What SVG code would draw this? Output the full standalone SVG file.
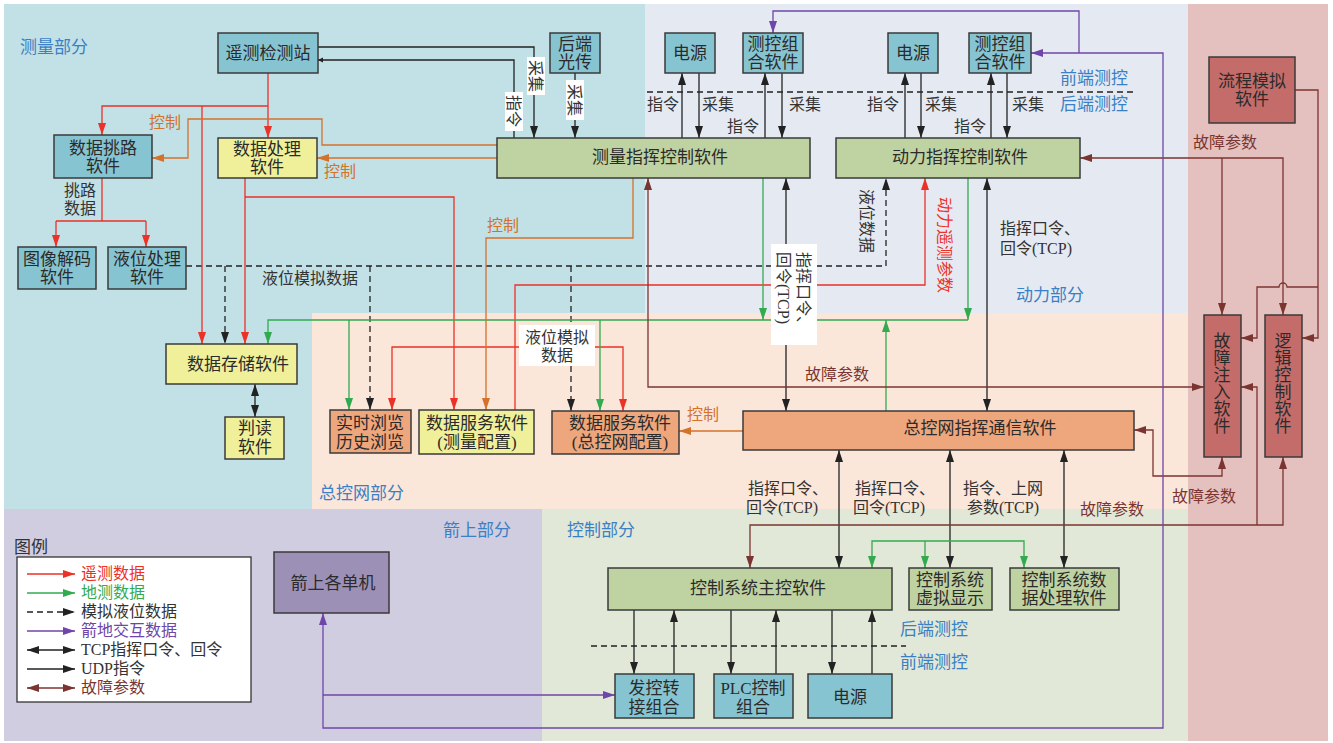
<svg xmlns="http://www.w3.org/2000/svg" width="1333" height="743" viewBox="0 0 1333 743">
<style>
text{font-family:"Liberation Serif","Noto Sans CJK SC",serif;}
.t{font-size:17px;fill:#2b2b2b;text-anchor:middle}
.l{font-size:16px;fill:#333;text-anchor:middle}
.ls{font-size:16px;fill:#333}
.lg{font-size:16px;fill:#333}
.sec{font-size:17px;fill:#3b7fc4}
.n{stroke:#3a3a3a;stroke-width:1.5}
.fb{fill:#87c4d1}.fy{fill:#f0f09b}.fg{fill:#bfd2a2}.fo{fill:#eea67c}.fr{fill:#c46c6a}.fp{fill:#9d90b7}
.c{fill:none;stroke-width:1.3}
.k{stroke:#222}.r{stroke:#ec3127}.g{stroke:#33aa50}.o{stroke:#d4712b}.b{stroke:#7b3530}.p{stroke:#6f45a8}
.d{stroke-dasharray:6 4}
.wb{fill:#fff}
.tr{fill:#ec3127}.tg{fill:#33aa50}.tb{fill:#7b3530}.tp{fill:#6f45a8}.to{fill:#d4712b}
</style>
<defs>
<marker id="mk" viewBox="0 0 12 8" refX="12" refY="4" markerWidth="12" markerHeight="8" markerUnits="userSpaceOnUse" orient="auto-start-reverse"><path d="M0,0L12,4L0,8z" fill="#222"/></marker>
<marker id="mks" viewBox="0 0 6 6" refX="6" refY="3" markerWidth="5" markerHeight="6" markerUnits="userSpaceOnUse" orient="auto-start-reverse"><path d="M0,0L6,3L0,6z" fill="#222"/></marker>
<marker id="mr" viewBox="0 0 12 8" refX="12" refY="4" markerWidth="12" markerHeight="8" markerUnits="userSpaceOnUse" orient="auto-start-reverse"><path d="M0,0L12,4L0,8z" fill="#ec3127"/></marker>
<marker id="mg" viewBox="0 0 12 8" refX="12" refY="4" markerWidth="12" markerHeight="8" markerUnits="userSpaceOnUse" orient="auto-start-reverse"><path d="M0,0L12,4L0,8z" fill="#33aa50"/></marker>
<marker id="mo" viewBox="0 0 12 8" refX="12" refY="4" markerWidth="12" markerHeight="8" markerUnits="userSpaceOnUse" orient="auto-start-reverse"><path d="M0,0L12,4L0,8z" fill="#d4712b"/></marker>
<marker id="mb" viewBox="0 0 12 8" refX="12" refY="4" markerWidth="12" markerHeight="8" markerUnits="userSpaceOnUse" orient="auto-start-reverse"><path d="M0,0L12,4L0,8z" fill="#7b3530"/></marker>
<marker id="mp" viewBox="0 0 12 8" refX="12" refY="4" markerWidth="12" markerHeight="8" markerUnits="userSpaceOnUse" orient="auto-start-reverse"><path d="M0,0L12,4L0,8z" fill="#6f45a8"/></marker>
</defs>
<rect width="1333" height="743" fill="#fff"/>
<g id="regions">
<rect x="4" y="4" width="641" height="506" fill="#c1e1e7"/>
<rect x="645" y="4" width="543" height="309" fill="#e5eaf2"/>
<rect x="312" y="313" width="876" height="196" fill="#fbe6da"/>
<rect x="1188" y="4" width="140" height="737" fill="#e4c0bf"/>
<rect x="4" y="509" width="538" height="232" fill="#d1cde0"/>
<rect x="542" y="509" width="646" height="232" fill="#e2e8d7"/>
<text class="sec" x="20" y="53">测量部分</text>
<text class="sec" x="1016" y="301">动力部分</text>
<text class="sec" x="319" y="499">总控网部分</text>
<text class="sec" x="443" y="536">箭上部分</text>
<text class="sec" x="567" y="536">控制部分</text>
<text class="sec" x="1060" y="84">前端测控</text>
<text class="sec" x="1060" y="110">后端测控</text>
<text class="sec" x="900" y="635">后端测控</text>
<text class="sec" x="900" y="668">前端测控</text>
</g>
<g id="connectors">
<path class="c k d" d="M647,92H1137"/>
<path class="c k d" d="M591,646H906"/>
<path class="c k" d="M318,47H534V138" marker-end="url(#mk)"/>
<path class="c k" d="M514,138V60H318" marker-end="url(#mks)"/>
<path class="c k" d="M575,73V138" marker-end="url(#mk)"/>
<path class="c k" d="M682,138V73" marker-end="url(#mk)"/>
<path class="c k" d="M699,73V138" marker-end="url(#mk)"/>
<path class="c k" d="M765,138V73" marker-end="url(#mk)"/>
<path class="c k" d="M782,73V138" marker-end="url(#mk)"/>
<path class="c k" d="M905,138V73" marker-end="url(#mk)"/>
<path class="c k" d="M921,73V138" marker-end="url(#mk)"/>
<path class="c k" d="M991,138V73" marker-end="url(#mk)"/>
<path class="c k" d="M1007,73V138" marker-end="url(#mk)"/>
<path class="c k" d="M786,178V411" marker-start="url(#mk)" marker-end="url(#mk)"/>
<path class="c k" d="M987,178V411" marker-start="url(#mk)" marker-end="url(#mk)"/>
<path class="c k" d="M839,450V568" marker-start="url(#mk)" marker-end="url(#mk)"/>
<path class="c k" d="M950,450V568" marker-start="url(#mk)" marker-end="url(#mk)"/>
<path class="c k" d="M1064,450V568" marker-start="url(#mk)" marker-end="url(#mk)"/>
<path class="c k" d="M255,384V417" marker-start="url(#mk)" marker-end="url(#mk)"/>
<path class="c k" d="M634,610V674" marker-end="url(#mk)"/>
<path class="c k" d="M674,674V610" marker-end="url(#mk)"/>
<path class="c k" d="M731,610V674" marker-end="url(#mk)"/>
<path class="c k" d="M776,674V610" marker-end="url(#mk)"/>
<path class="c k" d="M832,610V674" marker-end="url(#mk)"/>
<path class="c k" d="M872,674V610" marker-end="url(#mk)"/>
<path class="c k d" d="M186,266H886V178" marker-end="url(#mk)"/>
<path class="c k d" d="M225,266V344" marker-end="url(#mk)"/>
<path class="c k d" d="M370,266V410" marker-end="url(#mk)"/>
<path class="c k d" d="M571,266V411" marker-end="url(#mk)"/>
<path class="c r" d="M268,73V138" marker-end="url(#mr)"/>
<path class="c r" d="M268,106H102V135" marker-end="url(#mr)"/>
<path class="c r" d="M202,106V344" marker-end="url(#mr)"/>
<path class="c r" d="M245,178V344" marker-end="url(#mr)"/>
<path class="c r" d="M245,197H454V410" marker-end="url(#mr)"/>
<path class="c r" d="M102,178V221M56,221H146"/>
<path class="c r" d="M56,221V247" marker-end="url(#mr)"/>
<path class="c r" d="M146,221V247" marker-end="url(#mr)"/>
<path class="c r" d="M515,410V285H925V178" marker-end="url(#mr)"/>
<path class="c r" d="M392,410V347H623V411" marker-start="url(#mr)" marker-end="url(#mr)"/>
<path class="c g" d="M763,178V320" marker-end="url(#mg)"/>
<path class="c g" d="M968,178V320" marker-end="url(#mg)"/>
<path class="c g" d="M886,411V320" marker-end="url(#mg)"/>
<path class="c g" d="M268,344V320H968" marker-start="url(#mg)"/>
<path class="c g" d="M349,320V410" marker-end="url(#mg)"/>
<path class="c g" d="M600,320V411" marker-end="url(#mg)"/>
<path class="c g" d="M872,568V541H1024V568" marker-start="url(#mg)" marker-end="url(#mg)"/>
<path class="c g" d="M925,541V568" marker-end="url(#mg)"/>
<path class="c o" d="M497,145H322V119H188V158H152" marker-end="url(#mo)"/>
<path class="c o" d="M497,158H317" marker-end="url(#mo)"/>
<path class="c o" d="M633,178V238H486V410" marker-end="url(#mo)"/>
<path class="c o" d="M743,431H679" marker-end="url(#mo)"/>
<path class="c b" d="M648,178V387H1204" marker-start="url(#mb)" marker-end="url(#mb)"/>
<path class="c b" d="M1080,158H1283V315" marker-start="url(#mb)" marker-end="url(#mb)"/>
<path class="c b" d="M1222,158V315" marker-end="url(#mb)"/>
<path class="c b" d="M1295,90H1318V338H1302" marker-end="url(#mb)"/>
<path class="c b" d="M1318,287H1287A4,4 0 0 0 1279,287H1257V338H1241" marker-end="url(#mb)"/>
<path class="c b" d="M1222,457V476H1153V430H1134" marker-start="url(#mb)" marker-end="url(#mb)"/>
<path class="c b" d="M750,568V525H1283V457" marker-start="url(#mb)" marker-end="url(#mb)"/>
<path class="c b" d="M1257,525V387H1241" marker-end="url(#mb)"/>
<path class="c p" d="M773,33V11H1079V53" marker-start="url(#mp)"/>
<path class="c p" d="M1031,53H1163V728H323V613" marker-start="url(#mp)" marker-end="url(#mp)"/>
<path class="c p" d="M323,695H615" marker-end="url(#mp)"/>
</g>
<g id="labels">
<rect class="wb" x="527" y="57" width="18" height="38"/>
<g transform="translate(536,76) rotate(90)"><text class="l" x="0" y="6">采集</text></g>
<rect class="wb" x="505" y="92" width="18" height="39"/>
<g transform="translate(514,111) rotate(90)"><text class="l" x="0" y="6">指令</text></g>
<rect class="wb" x="566" y="80" width="18" height="40"/>
<g transform="translate(575,100) rotate(90)"><text class="l" x="0" y="6">采集</text></g>
<text class="l" x="663" y="110">指令</text>
<text class="l" x="718" y="110">采集</text>
<text class="l" x="743" y="132">指令</text>
<text class="l" x="805" y="110">采集</text>
<text class="l" x="883" y="110">指令</text>
<text class="l" x="941" y="110">采集</text>
<text class="l" x="970" y="132">指令</text>
<text class="l" x="1028" y="110">采集</text>
<text class="l" x="80" y="196">挑路</text>
<text class="l" x="80" y="214">数据</text>
<text class="l" x="310" y="284">液位模拟数据</text>
<rect class="wb" x="519" y="325" width="76" height="41"/>
<text class="l" x="557" y="343">液位模拟</text>
<text class="l" x="557" y="361">数据</text>
<g transform="translate(867,221) rotate(90)"><text class="l" x="0" y="6">液位数据</text></g>
<g transform="translate(945,245) rotate(90)"><text class="l tr" x="0" y="6">动力遥测参数</text></g>
<rect class="wb" x="771" y="244" width="46" height="101"/>
<g transform="translate(794,294) rotate(90)"><text class="ls" x="-42" y="-4">指挥口令、</text><text class="ls" x="-42" y="16">回令(TCP)</text></g>
<text class="ls" x="1000" y="234">指挥口令、</text>
<text class="ls" x="1000" y="254">回令(TCP)</text>
<text class="ls" x="748" y="494">指挥口令、</text>
<text class="ls" x="746" y="513">回令(TCP)</text>
<text class="ls" x="855" y="494">指挥口令、</text>
<text class="ls" x="853" y="513">回令(TCP)</text>
<text class="ls" x="963" y="494">指令、上网</text>
<text class="ls" x="967" y="513">参数(TCP)</text>
<text class="l tb" x="837" y="380">故障参数</text>
<text class="l tb" x="1225" y="148">故障参数</text>
<text class="l tb" x="1204" y="502">故障参数</text>
<text class="l tb" x="1112" y="515">故障参数</text>
<text class="l to" x="165" y="128">控制</text>
<text class="l to" x="340" y="177">控制</text>
<text class="l to" x="503" y="231">控制</text>
<text class="l to" x="703" y="420">控制</text>
</g>
<g id="yaoce"><rect class="n fb" x="218" y="33" width="100" height="40"/><text class="t" x="268" y="59">遥测检测站</text></g>
<g id="houduan"><rect class="n fb" x="550" y="33" width="50" height="40"/><text class="t" x="575" y="50">后端</text><text class="t" x="575" y="68">光传</text></g>
<g id="dianyuan1"><rect class="n fb" x="665" y="33" width="50" height="40"/><text class="t" x="690" y="59">电源</text></g>
<g id="cekong1"><rect class="n fb" x="743" y="33" width="60" height="40"/><text class="t" x="773" y="50">测控组</text><text class="t" x="773" y="68">合软件</text></g>
<g id="dianyuan2"><rect class="n fb" x="888" y="33" width="50" height="40"/><text class="t" x="913" y="59">电源</text></g>
<g id="cekong2"><rect class="n fb" x="969" y="33" width="62" height="40"/><text class="t" x="1000" y="50">测控组</text><text class="t" x="1000" y="68">合软件</text></g>
<g id="liucheng"><rect class="n fr" x="1209" y="57" width="86" height="66"/><text class="t" x="1252" y="87">流程模拟</text><text class="t" x="1252" y="105">软件</text></g>
<g id="tiaolu"><rect class="n fb" x="54" y="135" width="98" height="43"/><text class="t" x="103" y="154">数据挑路</text><text class="t" x="103" y="172">软件</text></g>
<g id="chuli"><rect class="n fy" x="218" y="138" width="99" height="40"/><text class="t" x="267" y="155">数据处理</text><text class="t" x="267" y="173">软件</text></g>
<g id="tuxiang"><rect class="n fb" x="18" y="247" width="78" height="42"/><text class="t" x="57" y="265">图像解码</text><text class="t" x="57" y="283">软件</text></g>
<g id="yewei"><rect class="n fb" x="108" y="247" width="78" height="42"/><text class="t" x="147" y="265">液位处理</text><text class="t" x="147" y="283">软件</text></g>
<g id="celiang"><rect class="n fg" x="497" y="138" width="313" height="40"/><text class="t" x="660" y="163">测量指挥控制软件</text></g>
<g id="dongli"><rect class="n fg" x="836" y="138" width="244" height="40"/><text class="t" x="960" y="163">动力指挥控制软件</text></g>
<g id="cunchu"><rect class="n fy" x="166" y="344" width="131" height="40"/><text class="t" x="238" y="370">数据存储软件</text></g>
<g id="pandu"><rect class="n fy" x="225" y="417" width="59" height="42"/><text class="t" x="255" y="434">判读</text><text class="t" x="255" y="453">软件</text></g>
<g id="liulan"><rect class="n fo" x="330" y="410" width="81" height="43"/><text class="t" x="370" y="429">实时浏览</text><text class="t" x="370" y="448">历史浏览</text></g>
<g id="fuwu1"><rect class="n fy" x="419" y="410" width="115" height="44"/><text class="t" x="477" y="429">数据服务软件</text><text class="t" x="477" y="448">(测量配置)</text></g>
<g id="fuwu2"><rect class="n fo" x="552" y="411" width="127" height="43"/><text class="t" x="620" y="429">数据服务软件</text><text class="t" x="620" y="448">(总控网配置)</text></g>
<g id="zongkong"><rect class="n fo" x="743" y="411" width="391" height="39"/><text class="t" x="980" y="434">总控网指挥通信软件</text></g>
<g id="guzhang"><rect class="n fr" x="1204" y="315" width="37" height="142"/><text class="t" x="1222" y="347">故</text><text class="t" x="1222" y="364">障</text><text class="t" x="1222" y="381">注</text><text class="t" x="1222" y="398">入</text><text class="t" x="1222" y="415">软</text><text class="t" x="1222" y="432">件</text></g>
<g id="luoji"><rect class="n fr" x="1265" y="315" width="37" height="142"/><text class="t" x="1283" y="347">逻</text><text class="t" x="1283" y="364">辑</text><text class="t" x="1283" y="381">控</text><text class="t" x="1283" y="398">制</text><text class="t" x="1283" y="415">软</text><text class="t" x="1283" y="432">件</text></g>
<g id="jianshang"><rect class="n fp" x="274" y="552" width="115" height="61"/><text class="t" x="333" y="589">箭上各单机</text></g>
<g id="zhukong"><rect class="n fg" x="608" y="568" width="284" height="42"/><text class="t" x="758" y="594">控制系统主控软件</text></g>
<g id="xuni"><rect class="n fg" x="909" y="568" width="83" height="42"/><text class="t" x="950" y="586">控制系统</text><text class="t" x="950" y="604">虚拟显示</text></g>
<g id="shujuchuli"><rect class="n fg" x="1010" y="568" width="109" height="42"/><text class="t" x="1064" y="586">控制系统数</text><text class="t" x="1064" y="604">据处理软件</text></g>
<g id="fakong"><rect class="n fb" x="615" y="674" width="79" height="44"/><text class="t" x="654" y="694">发控转</text><text class="t" x="654" y="713">接组合</text></g>
<g id="plc"><rect class="n fb" x="714" y="674" width="79" height="44"/><text class="t" x="753" y="694">PLC控制</text><text class="t" x="753" y="713">组合</text></g>
<g id="dianyuan3"><rect class="n fb" x="808" y="674" width="84" height="44"/><text class="t" x="850" y="703">电源</text></g>
<g id="legend">
<text class="lg" x="14" y="553" style="font-size:17px">图例</text>
<rect x="17" y="557" width="234" height="145" fill="#fff" stroke="#333" stroke-width="1.3"/>
<path class="c r" d="M27,574H75" marker-end="url(#mr)"/>
<path class="c g" d="M27,593H75" marker-end="url(#mg)"/>
<path class="c k d" d="M27,612H75" marker-end="url(#mk)"/>
<path class="c p" d="M27,631H75" marker-end="url(#mp)"/>
<path class="c k" d="M27,650H75" marker-start="url(#mk)" marker-end="url(#mk)"/>
<path class="c k" d="M27,669H75" marker-end="url(#mk)"/>
<path class="c b" d="M27,688H75" marker-start="url(#mb)" marker-end="url(#mb)"/>
<text class="lg tr" x="81" y="579">遥测数据</text>
<text class="lg tg" x="81" y="598">地测数据</text>
<text class="lg" x="81" y="617">模拟液位数据</text>
<text class="lg tp" x="81" y="636">箭地交互数据</text>
<text class="lg" x="81" y="655">TCP指挥口令、回令</text>
<text class="lg" x="81" y="674">UDP指令</text>
<text class="lg tb" x="81" y="693">故障参数</text>
</g>
</svg>
